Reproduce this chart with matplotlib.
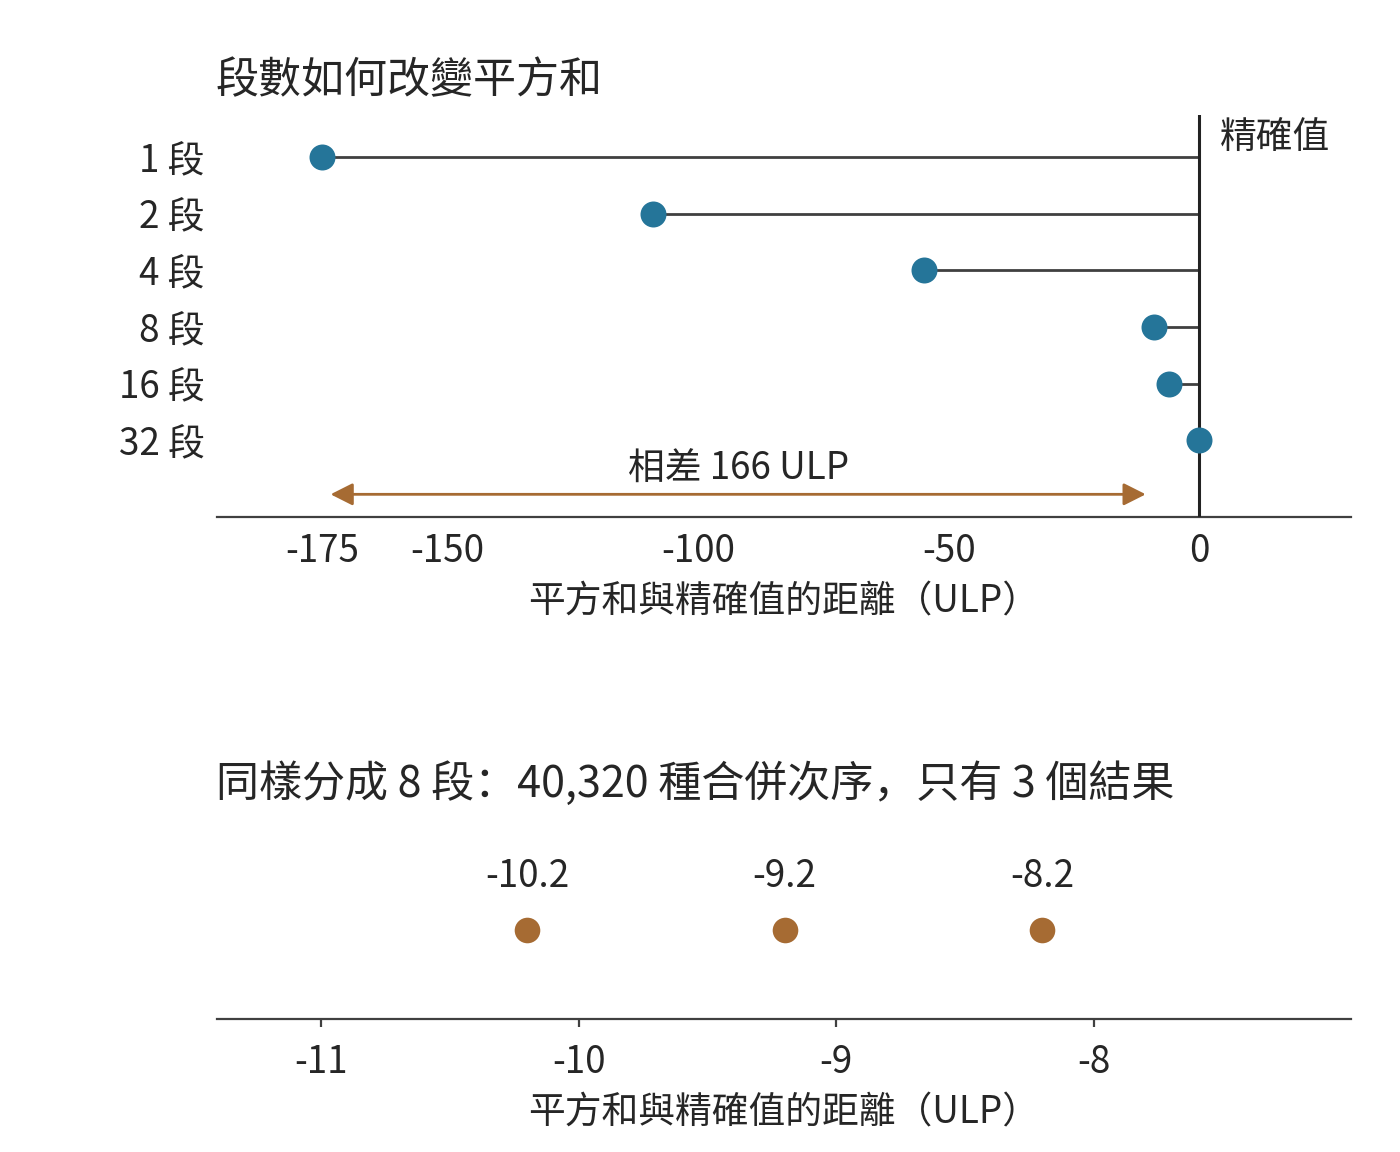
import matplotlib
matplotlib.use("Agg")
import matplotlib.pyplot as plt
import numpy as np

plt.rcParams['font.family'] = ['Noto Sans CJK SC', 'DejaVu Sans']

# ---- data ----
segments = ["1 段", "2 段", "4 段", "8 段", "16 段", "32 段"]
ulp_error = [-175, -109, -55, -9, -6, 0]
top_ticks = [-175, -150, -100, -50, 0]
range_lo, range_hi = -175, -9
range_label = "相差 166 ULP"

orders_results = [-10.2, -9.2, -8.2]
orders_labels = ["-10.2", "-9.2", "-8.2"]
bottom_ticks = [-11, -10, -9, -8]

title_top = "段數如何改變平方和"
title_bottom = "同樣分成 8 段：40,320 種合併次序，只有 3 個結果"
xlabel = "平方和與精確值的距離（ULP）"
exact_label = "精確值"

BLUE = "#257599"
BROWN = "#A66B33"
LINE = "#404040"
TXT = "#262626"

FS = 26.5
FT = 31

W, H = 1400, 1152
fig = plt.figure(figsize=(W / 100, H / 100), dpi=100)

def fx(px):
    return px / W

def fy(py):
    return 1 - py / H

# ---- top panel ----
ax1 = fig.add_axes([fx(217), fy(517), fx(1351) - fx(217), fy(115) - fy(517)])
ypos = np.arange(len(segments))
ax1.hlines(ypos, ulp_error, 0, color=LINE, lw=2.0, zorder=2)
ax1.axvline(0, color="#222222", lw=2.2, zorder=3)
ax1.scatter(ulp_error, ypos, s=350, color=BLUE, zorder=4, linewidths=0)
ax1.set_xlim(-196, 30.3)
ax1.set_ylim(6.35, -0.74)
ax1.set_yticks(ypos)
ax1.set_yticklabels(segments, fontsize=FS, color=TXT)
ax1.set_xticks(top_ticks)
ax1.set_xticklabels([str(t) for t in top_ticks], fontsize=FS, color=TXT)
ax1.tick_params(axis='both', length=0)
ax1.tick_params(axis='x', pad=11)
ax1.tick_params(axis='y', pad=9)
for s in ["top", "right", "left"]:
    ax1.spines[s].set_visible(False)
ax1.spines["bottom"].set_color(LINE)
ax1.spines["bottom"].set_linewidth(1.6)
ax1.set_xlabel(xlabel, fontsize=FS, color=TXT, labelpad=8)

arrow_y = 5.95
ax1.annotate("", xy=(range_hi, arrow_y), xytext=(range_lo, arrow_y),
             arrowprops=dict(arrowstyle="<|-|>,head_length=13.5,head_width=6.8",
                             mutation_scale=1, color=BROWN, lw=2.0,
                             shrinkA=6, shrinkB=6))
ax1.annotate(range_label, xy=((range_lo + range_hi) / 2, arrow_y),
             xytext=(0, 18), textcoords="offset points",
             ha="center", va="center", fontsize=FS, color=TXT)
ax1.annotate(exact_label, xy=(0, 1), xycoords=("data", "axes fraction"),
             xytext=(15, -16), textcoords="offset points",
             ha="left", va="center", fontsize=FS, color=TXT)

fig.text(fx(216), fy(81), title_top, fontsize=FT, color=TXT,
         ha="left", va="center")

# ---- bottom panel ----
ax2 = fig.add_axes([fx(217), fy(1019), fx(1351) - fx(217), fy(840) - fy(1019)])
yb = np.zeros(len(orders_results))
ax2.scatter(orders_results, yb, s=340, color=BROWN, zorder=4, linewidths=0)
for xv, lab in zip(orders_results, orders_labels):
    ax2.annotate(lab, xy=(xv, 0), xytext=(0, 38), textcoords="offset points",
                 ha="center", va="center", fontsize=FS, color=TXT)
ax2.set_xlim(-11.404, -7.0)
ax2.set_ylim(-1, 1)
ax2.set_yticks([])
ax2.set_xticks(bottom_ticks)
ax2.set_xticklabels([str(t) for t in bottom_ticks], fontsize=FS, color=TXT)
ax2.tick_params(axis='x', length=6, width=1.6, color=LINE, pad=11.5)
for s in ["top", "right", "left"]:
    ax2.spines[s].set_visible(False)
ax2.spines["bottom"].set_color(LINE)
ax2.spines["bottom"].set_linewidth(1.6)
ax2.set_xlabel(xlabel, fontsize=FS, color=TXT, labelpad=8)

fig.text(fx(216), fy(785), title_bottom, fontsize=FT, color=TXT,
         ha="left", va="center")

fig.savefig("out.png", dpi=100, facecolor="white")
